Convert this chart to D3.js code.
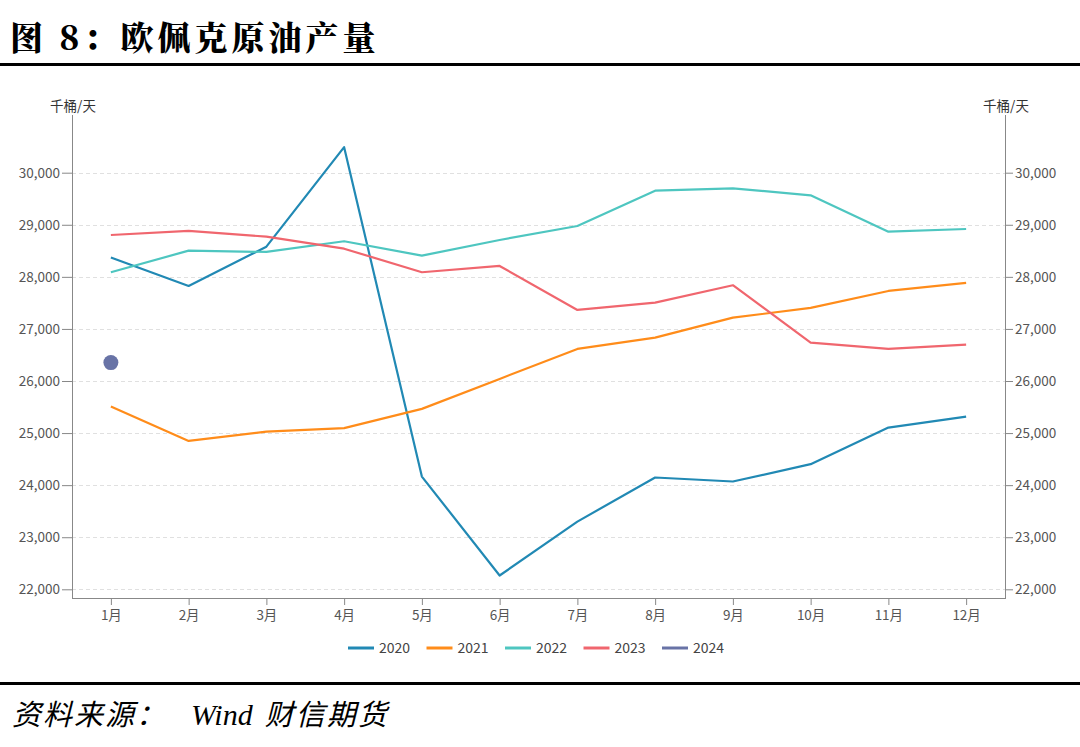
<!DOCTYPE html>
<html>
<head>
<meta charset="utf-8">
<script src="https://cdn.jsdelivr.net/npm/d3@7"></script>
<style>
  html, body { margin: 0; padding: 0; background: #fff; }
  svg { display: block; }
</style>
</head>
<body>
<svg id="chart" width="1080" height="747"></svg>
<script>
const months = ["1月","2月","3月","4月","5月","6月","7月","8月","9月","10月","11月","12月"];
const years = ["2020","2021","2022","2023","2024"];
const s2020 = [28370, 27825, 28580, 30490, 24165, 22265, 23300, 24147, 24070, 24403, 25106, 25317];
const s2021 = [25509, 24850, 25029, 25094, 25465, 26040, 26616, 26833, 27217, 27403, 27729, 27883];
const s2022 = [28088, 28503, 28478, 28683, 28407, 28708, 28977, 29655, 29700, 29566, 28868, 28919];
const s2023 = [28804, 28881, 28772, 28541, 28088, 28209, 27365, 27505, 27839, 26737, 26616, 26699];
const s2024 = [26353];
const yTicks = [22000, 23000, 24000, 25000, 26000, 27000, 28000, 29000, 30000];
const colors = ["#2189b4", "#ff8c1a", "#4ec6c0", "#f0666e", "#6873a6"];
const seriesData = [s2020, s2021, s2022, s2023, s2024];

const svg = d3.select("#chart");
const cjk = "'Noto Sans CJK SC', 'Noto Sans', sans-serif";

// Title
svg.append("text").attr("x", 10).attr("y", 50)
  .attr("font-family", "'Noto Serif CJK SC', 'Noto Sans CJK SC', serif")
  .attr("font-weight", 900).attr("font-size", 33).attr("letter-spacing", 4)
  .attr("fill", "#000").text("图 8：欧佩克原油产量");
svg.append("rect").attr("x", 0).attr("y", 63).attr("width", 1080).attr("height", 3).attr("fill", "#000");

// Footer
svg.append("rect").attr("x", 0).attr("y", 682).attr("width", 1080).attr("height", 3).attr("fill", "#000");
const foot = svg.append("text").attr("x", 12).attr("y", 725)
  .attr("font-size", 29).attr("font-style", "italic").attr("fill", "#000");
foot.append("tspan").attr("font-family", cjk).attr("letter-spacing", 2).text("资料来源：");
foot.append("tspan").attr("dx", 24).attr("font-family", "'Liberation Serif', serif").attr("font-size", 30).text("Wind");
foot.append("tspan").attr("dx", 12).attr("font-family", cjk).attr("letter-spacing", 2).text("财信期货");

// Scales
const pL = 72, pR = 1005, pT = 115, pB = 598;
const x = d3.scalePoint().domain(months).range([pL, pR]).padding(0.5);
const y = d3.scaleLinear().domain([21833, 31108]).range([pB, pT]);

// Gridlines
svg.append("g").selectAll("line").data(yTicks).join("line")
  .attr("x1", pL).attr("x2", pR)
  .attr("y1", d => Math.round(y(d)) + 0.5).attr("y2", d => Math.round(y(d)) + 0.5)
  .attr("stroke", "#e0e0e0").attr("stroke-width", 1).attr("stroke-dasharray", "4,3");

// Axes
const fmt = d3.format(",");
const axL = svg.append("g").attr("transform", `translate(${pL},0)`)
  .call(d3.axisLeft(y).tickValues(yTicks).tickFormat(fmt).tickSize(10).tickPadding(2));
const axR = svg.append("g").attr("transform", `translate(${pR},0)`)
  .call(d3.axisRight(y).tickValues(yTicks).tickFormat(fmt).tickSize(8).tickPadding(2));
const axB = svg.append("g").attr("transform", `translate(0,${pB})`)
  .call(d3.axisBottom(x).tickSize(7).tickPadding(5));
[axL, axR, axB].forEach(g => {
  g.select(".domain").remove();
  g.selectAll("line").attr("stroke", "#888");
  g.selectAll("text").attr("font-family", cjk).attr("font-size", 13.5).attr("fill", "#555");
});
// axis lines
svg.append("line").attr("x1", pL + 0.5).attr("x2", pL + 0.5).attr("y1", pT).attr("y2", pB).attr("stroke", "#888");
svg.append("line").attr("x1", pR + 0.5).attr("x2", pR + 0.5).attr("y1", pT).attr("y2", pB).attr("stroke", "#888");
svg.append("line").attr("x1", pL).attr("x2", pR + 1).attr("y1", pB + 0.5).attr("y2", pB + 0.5).attr("stroke", "#888");

// Unit labels
svg.append("text").attr("x", 73).attr("y", 111).attr("text-anchor", "middle")
  .attr("font-family", cjk).attr("font-size", 13.5).attr("fill", "#333").text("千桶/天");
svg.append("text").attr("x", 1006).attr("y", 111).attr("text-anchor", "middle")
  .attr("font-family", cjk).attr("font-size", 13.5).attr("fill", "#333").text("千桶/天");

// Lines
const line = d3.line().x((d, i) => x(months[i])).y(d => y(d));
seriesData.forEach((s, k) => {
  if (s.length > 1) {
    svg.append("path").datum(s).attr("d", line)
      .attr("fill", "none").attr("stroke", colors[k]).attr("stroke-width", 2.2)
      .attr("stroke-linejoin", "round");
  } else {
    svg.append("circle").attr("cx", x(months[0])).attr("cy", y(s[0])).attr("r", 7.5).attr("fill", colors[k]);
  }
});

// Legend
const leg = svg.append("g");
years.forEach((yr, i) => {
  const lx = 348 + i * 78.5;
  leg.append("line").attr("x1", lx).attr("x2", lx + 26).attr("y1", 648).attr("y2", 648)
    .attr("stroke", colors[i]).attr("stroke-width", 3);
  leg.append("text").attr("x", lx + 31).attr("y", 653)
    .attr("font-family", cjk).attr("font-size", 14).attr("fill", "#444").text(yr);
});
</script>
</body>
</html>
